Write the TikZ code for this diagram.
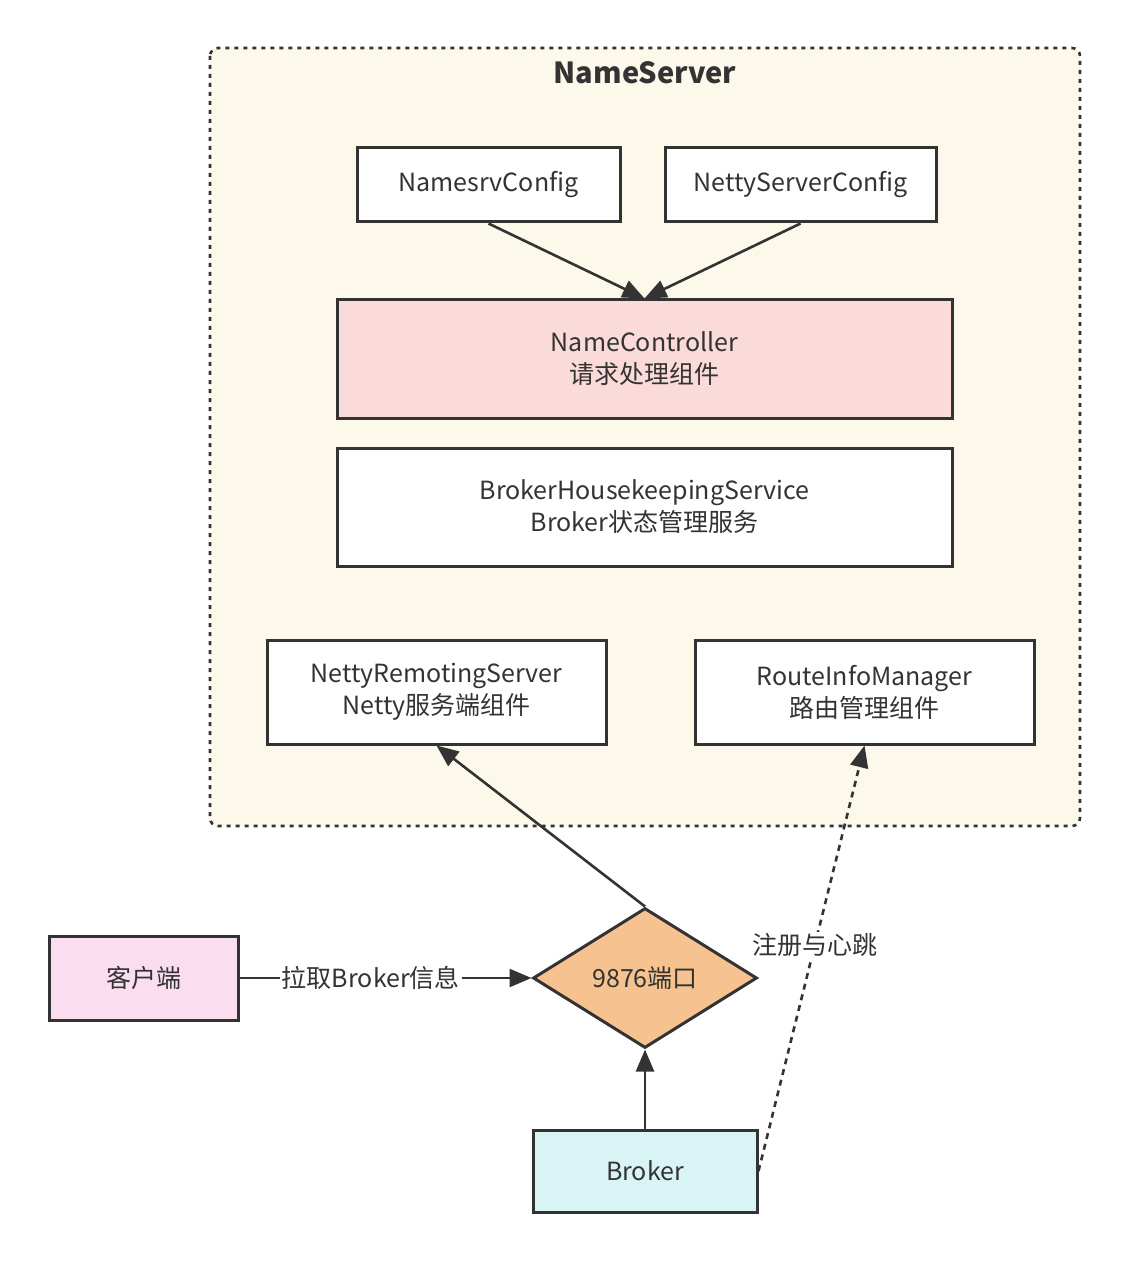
\documentclass[tikz,border=0pt]{standalone}
\usepackage{fontspec}
\setmainfont{Noto Sans CJK SC}
\usetikzlibrary{shapes.geometric,arrows.meta}
\definecolor{linegray}{HTML}{333333}
\definecolor{servercream}{HTML}{FCF8EA}
\definecolor{ctrlpink}{HTML}{FADBD9}
\definecolor{clientpink}{HTML}{FADDEE}
\definecolor{portorange}{HTML}{F5C290}
\definecolor{brokercyan}{HTML}{D9F4F4}
\tikzset{
  comp/.style={draw=linegray,fill=white,line width=1.5pt,inner sep=0pt,align=center},
  flow/.style={draw=linegray,line width=1.3pt,-{Triangle[length=11pt,width=9pt]}},
}
\begin{document}
\begin{tikzpicture}[x=0.5pt,y=-0.5pt,font=\fontsize{12.5}{16}\selectfont,text=linegray]
            \useasboundingbox (0,0) rectangle (1130,1262);

            % NameServer frame
            \draw[draw=linegray,fill=servercream,line width=1.3pt,dash pattern=on 2pt off 2.5pt,rounded corners=4pt] (210,48) rectangle (1080,826);
            \node[font=\fontsize{14.5}{18}\selectfont\bfseries] (title) at (645,73) {NameServer};

            \node[comp,minimum width=131.5pt,minimum height=37pt] (nsconf) at (488.5,185) {NamesrvConfig};
            \node[comp,minimum width=135.5pt,minimum height=37pt] (nettyconf) at (800.5,185) {NettyServerConfig};
            \node[comp,fill=ctrlpink,minimum width=307.5pt,minimum height=59pt] (ctrl) at (644.5,359) {NameController\\请求处理组件};
            \node[comp,minimum width=307.5pt,minimum height=59pt] (housekeep) at (644.5,507) {BrokerHousekeepingService\\Broker状态管理服务};
            \node[comp,minimum width=169.5pt,minimum height=52pt] (remoting) at (436.5,692) {NettyRemotingServer\\Netty服务端组件};
            \node[comp,minimum width=169.5pt,minimum height=52pt] (route) at (864.5,692) {RouteInfoManager\\路由管理组件};

            % outside
            \node[comp,fill=clientpink,minimum width=94.5pt,minimum height=42pt] (client) at (143.5,978) {客户端};
            \node[comp,fill=portorange,shape=diamond,minimum width=112pt,minimum height=70pt] (port) at (645,978) {9876端口};
            \node[comp,fill=brokercyan,minimum width=112pt,minimum height=41pt] (broker) at (645,1171) {Broker};

            \draw[flow] (nsconf.south) -- (ctrl.north);
            \draw[flow] (nettyconf.south) -- (ctrl.north);
            \draw[flow] (client) -- node[pos=0.45,fill=white,inner sep=1pt] {拉取Broker信息} (port);
            \draw[flow] (broker) -- (port);
            \draw[flow] (port.north) -- (remoting.south);
            \draw[flow,dash pattern=on 3pt off 2.5pt] (broker.east) -- node[pos=0.53,fill=white,inner sep=1pt] {注册与心跳} (route.south);

        \end{tikzpicture}
\end{document}
